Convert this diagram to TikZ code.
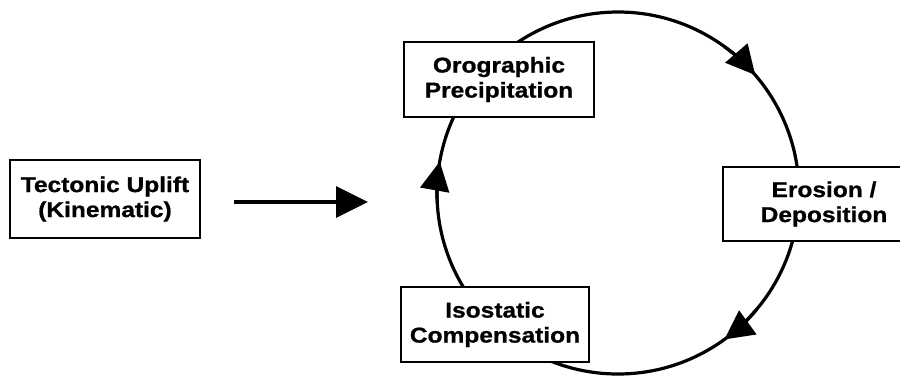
\documentclass[tikz,border=0pt]{standalone}
\usepackage{fontspec}
\setmainfont[FakeStretch=1.14,BoldFeatures={FakeBold=0.9}]{Liberation Sans}
\usetikzlibrary{arrows.meta}
\begin{document}
\begin{tikzpicture}[x=1pt,y=-1pt,
  box/.style={draw=black,line width=1.6pt,fill=white,inner sep=0pt,align=center,
    font=\bfseries\fontsize{21.5}{25}\selectfont},
  cyc/.style={line width=3.2pt},
  cyctip/.style={line width=3.2pt,-{Triangle[length=29pt,width=29pt]}},
  arr/.style={line width=3.2pt,-{Triangle[length=32pt,width=31pt]}}]
\useasboundingbox (0,0) rectangle (900,376);
\clip (0,0) rectangle (900,376);
\coordinate (c) at (618,193);
\draw[cyc] (c) circle[radius=181];
\draw[cyctip] (c) ++(-54:181) arc[start angle=-54,end angle=-40.7,radius=181];
\draw[cyctip] (c) ++(40:181) arc[start angle=40,end angle=54,radius=181];
\draw[cyctip] (c) ++(177:181) arc[start angle=177,end angle=190,radius=181];
\node[box,minimum width=190pt,minimum height=78pt] (tect) at (105,199) {Tectonic Uplift\\(Kinematic)};
\node[box,minimum width=190pt,minimum height=75pt] (oro) at (499,79.5) {Orographic\\Precipitation};
\node[box,minimum width=202pt,minimum height=74pt] (ero) at (824,204) {Erosion /\\Deposition};
\node[box,minimum width=188pt,minimum height=75pt] (iso) at (495,324.5) {Isostatic\\Compensation};
\coordinate (tip) at (368,202);
\draw[arr] ([xshift=33pt]tect.east |- tip) -- (tip);
\end{tikzpicture}
\end{document}
